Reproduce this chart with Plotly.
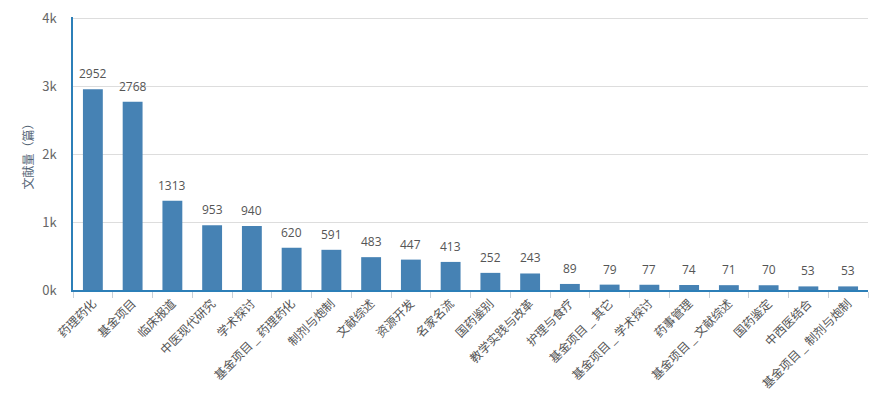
import plotly.graph_objects as go

categories = ["药理药化", "基金项目", "临床报道", "中医现代研究", "学术探讨",
              "基金项目 _ 药理药化", "制剂与炮制", "文献综述", "资源开发", "名家名流",
              "国药鉴别", "教学实践与改革", "护理与食疗", "基金项目 _ 其它",
              "基金项目 _ 学术探讨", "药事管理", "基金项目 _ 文献综述", "国药鉴定",
              "中西医结合", "基金项目 _ 制剂与炮制"]
values = [2952, 2768, 1313, 953, 940, 620, 591, 483, 447, 413,
          252, 243, 89, 79, 77, 74, 71, 70, 53, 53]
y_tick_vals = [0, 1000, 2000, 3000, 4000]
y_tick_text = ["0k", "1k", "2k", "3k", "4k"]

font_family = "Microsoft YaHei, Noto Sans CJK SC, Open Sans, sans-serif"

fig = go.Figure(go.Bar(
    x=categories, y=values,
    marker=dict(color="#4682B4", line=dict(width=0)),
    hoverinfo="x+y",
))

for c, v in zip(categories, values):
    fig.add_annotation(x=c, y=v, text=str(v), showarrow=False,
                       yanchor="bottom", yshift=5,
                       font=dict(size=12, color="#555555", family="Open Sans, sans-serif"))

fig.update_layout(
    width=886, height=399,
    margin=dict(l=73, r=18, t=17, b=109),
    paper_bgcolor="white", plot_bgcolor="white",
    bargap=0.5, showlegend=False,
    font=dict(family=font_family, size=12, color="#666666"),
    xaxis=dict(
        type="category", tickangle=-45, tickson="boundaries",
        ticks="outside", ticklen=6, tickcolor="#c8d0d8",
        showline=True, linecolor="#2c7fb8", linewidth=1.5,
        showgrid=False, automargin=False,
        tickfont=dict(size=12, color="#555555"),
    ),
    yaxis=dict(
        range=[0, 4015], tickvals=y_tick_vals, ticktext=y_tick_text,
        showline=True, linecolor="#2c7fb8", linewidth=1.5,
        showgrid=True, gridcolor="#dddddd", gridwidth=1,
        zeroline=False, ticks="", ticklabelstandoff=12, automargin=False,
        tickfont=dict(size=13, color="#666666"),
        title=dict(text="文献量（篇）", font=dict(size=12, color="#556677"), standoff=6),
    ),
)

fig.write_html("out.html",
               config={"displayModeBar": False},
               post_script="document.body.style.margin='0';document.body.style.overflow='hidden';")
